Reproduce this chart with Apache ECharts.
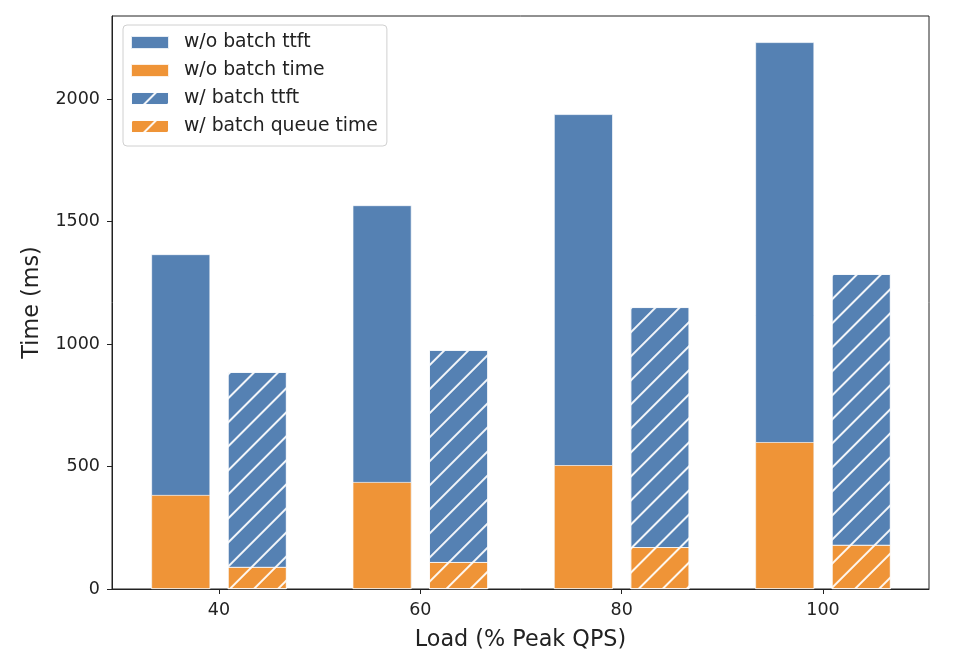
<!DOCTYPE html>
<html>
<head>
<meta charset="utf-8">
<script src="https://cdn.jsdelivr.net/npm/echarts@6/dist/echarts.min.js"></script>
<style>
html,body{margin:0;padding:0;background:#fff;}
#chart{width:960px;height:667px;}
</style>
</head>
<body>
<div id="chart"></div>
<script>
// ---- data ----
const loads = [40, 60, 80, 100];
const noBatchTtft = [1367, 1567, 1939, 2233];
const noBatchTime = [384, 437, 506, 600];
const batchTtft = [886, 976, 1151, 1286];
const batchQueueTime = [90, 110, 171, 180];
const yTicks = [0, 500, 1000, 1500, 2000];
const seriesNames = ['w/o batch ttft', 'w/o batch time', 'w/ batch ttft', 'w/ batch queue time'];

// ---- styling ----
const BLUE = '#5581b3';
const ORANGE = '#ef9437';
const OFFSET = 3.8;
const FONT = 'DejaVu Sans';
const hatch = {
  symbol: 'rect',
  symbolSize: 1,
  color: 'rgba(255,255,255,0.92)',
  dashArrayX: [1, 0],
  dashArrayY: [1.5, 15],
  rotation: -Math.PI / 4
};

function pts(vals, shift) { return loads.map((l, i) => [l + shift, vals[i]]); }

function bar(name, color, vals, shift, decal) {
  const s = {
    name: name,
    type: 'bar',
    barWidth: 59,
    barGap: '-100%',
    data: pts(vals, shift),
    itemStyle: { color: color, borderColor: 'rgba(255,255,255,0.85)', borderWidth: 0.8 }
  };
  if (decal) s.itemStyle.decal = decal;
  return s;
}

const chart = echarts.init(document.getElementById('chart'), null, { renderer: 'canvas' });
chart.setOption({
  animation: false,
  backgroundColor: '#fff',
  textStyle: { fontFamily: FONT },
  grid: { left: 112, right: 31, top: 16, bottom: 78, show: true, borderColor: '#222', borderWidth: 1, backgroundColor: 'transparent' },
  legend: {
    orient: 'vertical',
    left: 123,
    top: 25,
    padding: [8, 9, 10, 7],
    itemWidth: 38,
    itemHeight: 13,
    itemGap: 9,
    icon: 'rect',
    borderColor: '#d0d0d0',
    borderWidth: 1,
    borderRadius: 4,
    backgroundColor: 'rgba(255,255,255,0.85)',
    textStyle: { fontFamily: FONT, fontSize: 18.8, color: '#222', lineHeight: 18, padding: [0, 0, 0, 10] },
    data: seriesNames
  },
  xAxis: {
    type: 'value',
    min: 29.37,
    max: 110.53,
    name: 'Load (% Peak QPS)',
    nameLocation: 'middle',
    nameGap: 40,
    nameTextStyle: { fontFamily: FONT, fontSize: 22.3, color: '#222' },
    axisLine: { show: true, onZero: false, lineStyle: { color: '#222', width: 1 } },
    axisTick: { show: true, inside: false, length: 5, lineStyle: { color: '#222' }, customValues: loads },
    axisLabel: { fontFamily: FONT, fontSize: 17.5, color: '#222', margin: 12, customValues: loads, formatter: v => String(v) },
    splitLine: { show: false }
  },
  yAxis: {
    type: 'value',
    min: 0,
    max: 2340,
    name: 'Time (ms)',
    nameLocation: 'middle',
    nameGap: 69,
    nameTextStyle: { fontFamily: FONT, fontSize: 22.3, color: '#222' },
    axisLine: { show: true, lineStyle: { color: '#222', width: 1 } },
    axisTick: { show: true, inside: false, length: 5, lineStyle: { color: '#222' }, customValues: yTicks },
    axisLabel: { fontFamily: FONT, fontSize: 17.5, color: '#222', margin: 12, customValues: yTicks, formatter: v => String(v) },
    splitLine: { show: false }
  },
  series: [
    bar(seriesNames[0], BLUE, noBatchTtft, -OFFSET, null),
    bar(seriesNames[1], ORANGE, noBatchTime, -OFFSET, null),
    bar(seriesNames[2], BLUE, batchTtft, OFFSET, hatch),
    bar(seriesNames[3], ORANGE, batchQueueTime, OFFSET, hatch)
  ]
});
</script>
</body>
</html>
